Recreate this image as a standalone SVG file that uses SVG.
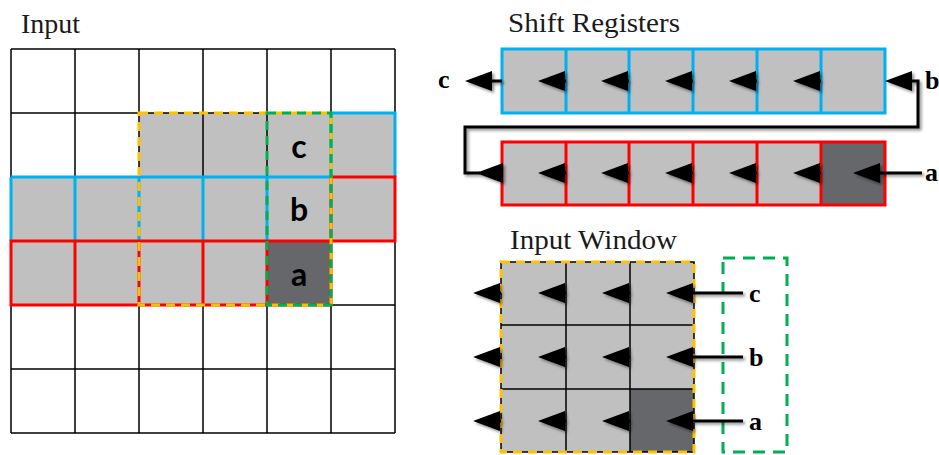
<svg xmlns="http://www.w3.org/2000/svg" width="939" height="455" viewBox="0 0 939 455">
  <style>
    .title { font-family: "Liberation Serif", "Times New Roman", serif; font-size: 28px; fill: #1a1a1a; }
    .lbl { font-family: "Liberation Serif", "Times New Roman", serif; font-size: 26px; font-weight: bold; fill: #000; }
    .cell-lbl { font-family: Lato, "Liberation Sans", sans-serif; font-size: 32px; font-weight: bold; fill: #000; text-anchor: middle; }
    .grid { fill: none; stroke: #000; stroke-width: 1.5; }
    .blue { fill: none; stroke: #00B0F0; stroke-width: 3; }
    .red { fill: none; stroke: #FF0000; stroke-width: 3; }
    .orange-dash { fill: none; stroke: #FFC000; stroke-width: 3; stroke-dasharray: 9 6; }
    .green-dash { fill: none; stroke: #00B050; stroke-width: 3; stroke-dasharray: 9 6; }
    .light { fill: #C0C0C0; }
    .dark { fill: #65676A; }
    .wire { fill: none; stroke: #000; stroke-width: 3; marker-end: url(#head); }
  </style>
  <defs>
    <marker id="head" markerUnits="userSpaceOnUse" viewBox="0 0 27 20" refX="11" refY="10" markerWidth="27" markerHeight="20" orient="auto">
      <path d="M0,0 L27,10 L0,20 Z" fill="#000"/>
    </marker>
    <filter id="shadow" x="-20%" y="-20%" width="140%" height="140%">
      <feDropShadow dx="2" dy="2" stdDeviation="1.5" flood-color="#000" flood-opacity="0.45"/>
    </filter>
  </defs>

  <rect width="939" height="455" fill="#fff"/>

  <!-- Input feature map: 6x6 grid -->
  <g id="input-grid">
    <text class="title" x="21" y="33">Input</text>
    <rect class="light" x="139" y="113" width="256" height="64"/>
    <rect class="light" x="11" y="177" width="384" height="64"/>
    <rect class="light" x="11" y="241" width="256" height="64"/>
    <rect class="dark" x="267" y="241" width="64" height="64"/>
    <path class="grid" d="M11,49V433M75,49V433M139,49V433M203,49V433M267,49V433M331,49V433M395,49V433
                          M11,49H395M11,113H395M11,177H395M11,241H395M11,305H395M11,369H395M11,433H395"/>
    <!-- row feeding register b -->
    <path class="blue" d="M11,177H331M11,177V241M75,177V241M139,177V241M203,177V241M267,177V241
                          M331,113H395V177M331,113V177"/>
    <!-- row feeding register a -->
    <path class="red" d="M331,177H395V241H331ZM11,241H331V305H11ZM75,241V305M139,241V305M203,241V305M267,241V305"/>
    <!-- 3x3 window and its newest column -->
    <rect class="orange-dash" x="139" y="113" width="192" height="192"/>
    <rect class="green-dash" x="267" y="113" width="64" height="192"/>
    <text class="cell-lbl" x="299" y="158">c</text>
    <text class="cell-lbl" x="299" y="221">b</text>
    <text class="cell-lbl" x="299" y="286">a</text>
  </g>

  <!-- Shift register chain -->
  <g id="shift-register-b">
    <text class="title" x="508" y="32" textLength="172" lengthAdjust="spacingAndGlyphs">Shift Registers</text>
    <rect class="light" x="502" y="49" width="383" height="64"/>
    <path class="blue" d="M502,49H885V113H502ZM566,49V113M629,49V113M693,49V113M757,49V113M821,49V113"/>
  </g>
  <g id="shift-register-a">
    <rect class="light" x="502" y="142" width="319" height="63"/>
    <rect class="dark" x="821" y="142" width="64" height="63"/>
    <path class="red" d="M502,142H885V205H502ZM566,142V205M629,142V205M693,142V205M757,142V205M821,142V205"/>
  </g>

  <!-- Input window: 3x3 -->
  <g id="input-window">
    <text class="title" x="510" y="249" textLength="167" lengthAdjust="spacingAndGlyphs">Input Window</text>
    <rect class="light" x="501" y="262" width="193" height="190"/>
    <rect class="dark" x="630" y="389" width="64" height="63"/>
    <path class="grid" d="M501,262H694V452H501ZM566,262V452M630,262V452M501,325H694M501,389H694"/>
    <rect class="orange-dash" x="501" y="262" width="193" height="190"/>
    <rect class="green-dash" x="723" y="258" width="64" height="194" style="stroke-dasharray:12 8"/>
  </g>

  <!-- Labels of the register ports -->
  <g id="port-labels">
    <text class="lbl" x="438" y="88">c</text>
    <text class="lbl" x="925" y="89">b</text>
    <text class="lbl" x="925" y="181">a</text>
    <text class="lbl" x="749" y="302">c</text>
    <text class="lbl" x="749" y="366">b</text>
    <text class="lbl" x="749" y="430">a</text>
  </g>

  <!-- Data movement -->
  <g id="connectors" filter="url(#shadow)">
    <!-- register b: cell-to-cell shifts and output c -->
    <path class="wire" d="M566,81H554"/>
    <path class="wire" d="M629,81H617"/>
    <path class="wire" d="M693,81H681"/>
    <path class="wire" d="M757,81H745"/>
    <path class="wire" d="M821,81H809"/>
    <path class="wire" d="M502,81H481"/>
    <!-- register a: input a, shifts, and wrap-around into register b -->
    <path class="wire" d="M922,173H869"/>
    <path class="wire" d="M566,173H554"/>
    <path class="wire" d="M629,173H617"/>
    <path class="wire" d="M693,173H681"/>
    <path class="wire" d="M757,173H745"/>
    <path class="wire" d="M821,173H809"/>
    <path class="wire" d="M502,173H492"/>
    <path class="wire" d="M480,173H465V127H918V81H901"/>
    <!-- input window rows -->
    <path class="wire" d="M743,293H682"/>
    <path class="wire" d="M630,293H618"/>
    <path class="wire" d="M566,293H554"/>
    <path class="wire" d="M501,293H489"/>
    <path class="wire" d="M743,357H682"/>
    <path class="wire" d="M630,357H618"/>
    <path class="wire" d="M566,357H554"/>
    <path class="wire" d="M501,357H489"/>
    <path class="wire" d="M743,421H682"/>
    <path class="wire" d="M630,421H618"/>
    <path class="wire" d="M566,421H554"/>
    <path class="wire" d="M501,421H489"/>
  </g>
</svg>
